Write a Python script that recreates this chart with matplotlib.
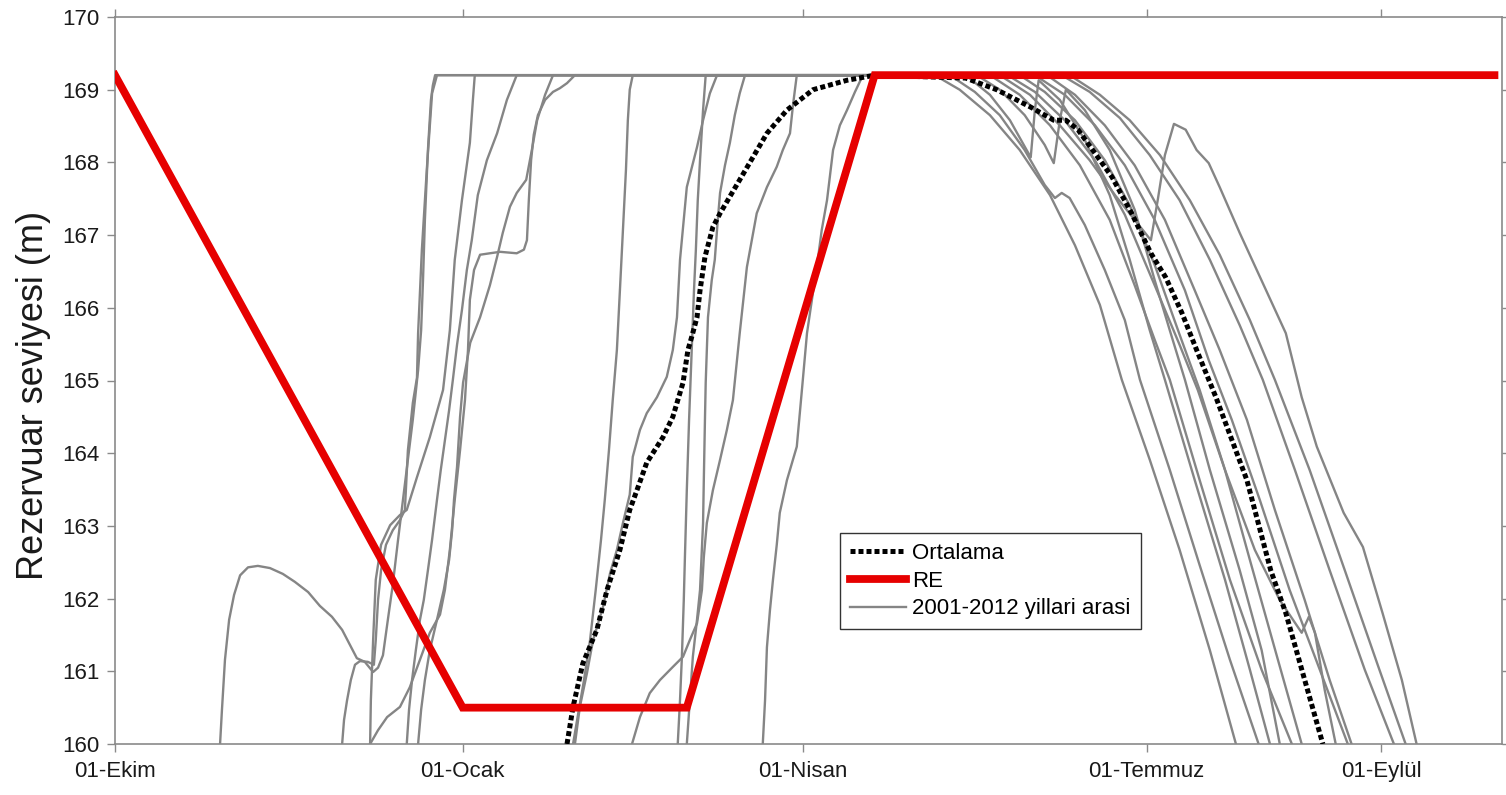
import matplotlib
matplotlib.use("Agg")
import matplotlib.pyplot as plt

plt.rcParams['font.family'] = ['Liberation Sans', 'DejaVu Sans']

# x in days from 01-Ekim, y in metres
tick_days = [0, 92, 182, 273, 335]
tick_labels = ['01-Ekim', '01-Ocak', '01-Nisan', '01-Temmuz', '01-Eylül']

re_day = [0, 92, 151.3, 201, 365]
re_lvl = [169.2, 160.5, 160.5, 169.2, 169.2]

mean_day = [119.6, 121.2, 123.8, 127.5, 130.2, 133.6, 136.2, 138.1, 140.7, 145.0, 147.6,
            150.3, 151.6, 152.6, 154.0, 154.8, 156.1, 158.2, 160.1, 165.3, 172.5, 177.8,
            184.7, 193.7, 201.1,
            225.1, 233.3, 242.3, 248.4, 251.6, 254.8, 258.7, 263.8, 269.0, 274.1, 278.0,
            282.3, 286.2, 291.3, 299.5, 305.8, 309.8, 314.8, 319.6]
mean_lvl = [160.0, 160.51, 161.11, 161.57, 162.12, 162.67, 163.22, 163.49, 163.87, 164.22, 164.5,
            164.97, 165.42, 165.6, 165.87, 166.24, 166.7, 167.11, 167.3, 167.76, 168.4, 168.72,
            169.0, 169.13, 169.2,
            169.16, 169.0, 168.76, 168.58, 168.58, 168.45, 168.17, 167.8, 167.3, 166.75, 166.42,
            165.93, 165.42, 164.77, 163.63, 162.39, 161.8, 160.88, 160.0]

yr01_day = [27.8, 28.3, 29.1, 30.2, 31.5, 33.1, 35.2, 37.8, 41.0, 44.4, 47.6, 51.1, 54.2, 57.4,
            60.1, 62.2, 64.0, 66.1, 68.3, 69.6, 70.9, 72.2, 73.5, 74.9, 76.2, 77.5, 78.8, 80.2,
            81.0, 81.5, 82.0, 82.8, 83.6, 84.1, 84.7,
            216.9, 223.5, 231.5, 239.4, 247.4, 254.0, 260.6, 266.4, 273.8, 281.7, 289.7, 296.6]
yr01_lvl = [160.0, 160.47, 161.16, 161.71, 162.05, 162.32, 162.43, 162.45, 162.42, 162.34, 162.23,
            162.09, 161.9, 161.75, 161.57, 161.36, 161.18, 161.13, 160.99, 161.05, 161.22, 161.71,
            162.19, 162.81, 163.36, 163.91, 164.46, 165.14, 165.69, 166.38, 167.21, 168.17, 168.86,
            169.06, 169.2,
            169.2, 169.0, 168.65, 168.17, 167.55, 166.86, 166.04, 165.01, 163.91, 162.67, 161.29, 160.0]

yr02_day = [60.1, 60.6, 61.4, 62.4, 63.5, 64.8, 66.9, 68.5, 69.0, 69.6, 70.4, 71.7, 73.5, 75.4,
            76.7, 77.5, 78.8, 79.9, 80.2, 81.2, 82.5, 83.9, 85.2,
            220.9, 227.5, 234.1, 240.7, 246.0, 248.7, 250.5, 252.6, 256.6, 261.9, 267.2, 271.2,
            279.1, 287.0, 295.0, 302.6]
yr02_lvl = [160.0, 160.33, 160.6, 160.88, 161.09, 161.14, 161.13, 161.09, 161.43, 161.98, 162.39,
            162.74, 162.94, 163.08, 163.22, 164.04, 164.69, 165.04, 165.65, 166.8, 167.9, 168.95, 169.2,
            169.2, 168.97, 168.65, 168.17, 167.69, 167.51, 167.58, 167.51, 167.14, 166.52, 165.83,
            165.01, 163.77, 162.46, 161.16, 160.0]

yr03_day = [67.5, 67.7, 68.3, 69.0, 70.4, 72.8, 75.4, 77.2, 79.9, 83.3, 86.8, 88.6, 89.9, 91.8,
            93.9, 94.7, 95.2,
            225.1, 231.5, 236.8, 242.3, 243.4, 244.4, 250.0, 256.6, 263.2, 268.5, 273.8, 277.8,
            285.7, 293.7, 300.3, 305.6]
yr03_lvl = [160.0, 160.6, 161.43, 162.26, 162.74, 163.01, 163.15, 163.22, 163.67, 164.22, 164.87,
            165.69, 166.66, 167.48, 168.27, 168.86, 169.2,
            169.2, 168.93, 168.58, 168.07, 168.72, 169.13, 168.86, 168.31, 167.55, 166.66, 165.69,
            165.01, 163.63, 162.26, 161.02, 160.0]

yr04_day = [67.5, 69.6, 72.0, 75.4, 78.0, 80.7, 83.3, 86.0, 87.3, 88.6, 89.9, 91.3, 92.6, 93.4,
            93.9, 95.0, 96.6, 99.2, 101.9, 106.3, 108.2, 109.0, 109.5, 110.1, 110.8, 111.9, 113.8,
            115.9, 117.7, 119.6, 121.7,
            228.0, 234.1, 240.7, 246.0, 248.4, 250.0, 251.6, 256.6, 263.2, 269.8, 275.1, 279.1,
            283.1, 289.7, 297.6, 303.4, 308.2]
yr04_lvl = [160.0, 160.19, 160.37, 160.51, 160.78, 161.16, 161.53, 161.78, 162.12, 162.67, 163.36,
            164.04, 164.73, 165.42, 166.11, 166.52, 166.73, 166.75, 166.77, 166.75, 166.8, 166.93,
            167.48, 168.03, 168.38, 168.65, 168.86, 168.97, 169.02, 169.09, 169.2,
            169.2, 169.0, 168.65, 168.24, 167.99, 168.58, 169.0, 168.72, 168.17, 167.35, 166.38,
            165.69, 165.01, 163.77, 162.39, 161.29, 160.0]

yr05_day = [77.2, 77.8, 78.6, 79.6, 80.7, 81.7, 82.8, 83.9, 85.2, 86.2, 87.3, 88.4, 89.4, 90.5,
            91.8, 93.1, 94.4, 96.0, 98.4, 101.1, 103.7, 106.3,
            231.5, 239.4, 247.4, 255.3, 263.2, 269.8, 275.1, 279.1, 287.0, 295.0, 303.4, 311.4]
yr05_lvl = [160.0, 160.47, 160.88, 161.29, 161.71, 161.98, 162.39, 162.81, 163.36, 163.77, 164.18,
            164.59, 165.01, 165.49, 165.97, 166.52, 166.93, 167.55, 168.03, 168.4, 168.86, 169.2,
            169.2, 168.93, 168.51, 167.96, 167.21, 166.31, 165.56, 165.01, 163.63, 162.26, 161.02, 160.0]

yr06_day = [80.2, 81.0, 82.0, 83.3, 85.2, 87.0, 88.4, 89.2, 89.7, 90.5, 91.3, 92.1, 94.0, 96.6,
            99.2, 101.1, 102.6, 104.5, 106.3, 108.8, 110.3, 111.7, 113.8, 115.9,
            236.2, 243.4, 251.3, 259.3, 267.2, 275.1, 281.7, 286.5, 293.7, 301.6, 308.2, 314.0,
            315.9, 317.5, 320.1, 323.0]
yr06_lvl = [160.0, 160.47, 160.88, 161.29, 161.71, 162.12, 162.53, 162.94, 163.36, 163.81, 164.5,
            164.97, 165.52, 165.87, 166.31, 166.7, 167.03, 167.39, 167.58, 167.76, 168.17, 168.58,
            168.93, 169.2,
            169.2, 168.97, 168.58, 168.03, 167.28, 166.31, 165.49, 164.87, 163.77, 162.67, 161.98,
            161.53, 161.75, 161.53, 160.74, 160.0]

yr07_day = [121.2, 122.5, 124.1, 125.7, 127.2, 128.6, 129.6, 130.7, 131.7, 132.8, 133.6, 134.4,
            135.2, 135.7, 136.2, 137.0,
            239.4, 246.0, 254.0, 261.9, 268.5, 275.1, 281.7, 287.0, 293.7, 300.3, 307.7, 314.0]
yr07_lvl = [160.0, 160.4, 160.88, 161.43, 162.12, 162.81, 163.36, 164.04, 164.73, 165.42, 166.24,
            167.07, 167.9, 168.58, 169.0, 169.2,
            169.2, 168.97, 168.58, 168.03, 167.41, 166.59, 165.63, 164.87, 163.77, 162.53, 161.16, 160.0]

yr08_day = [121.7, 123.0, 124.9, 126.5, 129.1, 131.0, 132.8, 134.4, 136.2, 137.0, 138.9, 140.7,
            143.4, 146.0, 147.6, 148.7, 149.5, 151.3, 154.0, 155.6, 157.4, 159.3,
            243.4, 251.3, 259.3, 267.2, 275.1, 283.1, 289.4, 295.5, 302.9, 310.8, 318.8, 326.2]
yr08_lvl = [160.0, 160.51, 160.98, 161.43, 161.88, 162.35, 162.67, 163.04, 163.43, 163.95, 164.32,
            164.55, 164.77, 165.05, 165.42, 165.87, 166.66, 167.66, 168.21, 168.58, 168.95, 169.2,
            169.2, 168.93, 168.51, 167.96, 167.21, 166.24, 165.28, 164.46, 163.36, 162.12, 161.02, 160.0]

yr09_day = [136.8, 138.9, 141.5, 144.2, 147.6, 150.3, 152.1, 154.0, 155.3, 155.8, 156.6, 158.2,
            160.1, 161.9, 163.5, 165.3, 167.2, 169.8, 172.5, 175.1, 176.7, 178.6, 179.4, 180.4,
            246.6, 254.0, 261.9, 269.8, 277.8, 285.7, 292.3, 299.5, 306.9, 314.8, 321.4, 327.2]
yr09_lvl = [160.0, 160.37, 160.7, 160.88, 161.06, 161.2, 161.43, 161.66, 162.12, 162.57, 163.04,
            163.49, 163.91, 164.32, 164.73, 165.65, 166.56, 167.3, 167.66, 167.94, 168.17, 168.4,
            168.79, 169.2,
            169.2, 168.93, 168.51, 167.96, 167.21, 166.24, 165.42, 164.46, 163.22, 161.98, 160.88, 160.0]

yr10_day = [148.9, 149.5, 150.0, 150.5, 150.8, 151.3, 151.9, 152.6, 153.2, 153.7, 154.2, 154.8,
            155.6, 156.3,
            250.5, 257.9, 265.9, 273.8, 281.7, 289.7, 297.6, 303.7, 312.2, 321.4, 330.7, 338.4]
yr10_lvl = [160.0, 160.6, 161.2, 161.98, 162.57, 163.49, 164.46, 165.42, 166.24, 166.8, 167.48,
            168.03, 168.72, 169.2,
            169.2, 168.97, 168.61, 168.1, 167.48, 166.66, 165.76, 165.01, 163.77, 162.39, 161.02, 160.0]

yr11_day = [151.3, 152.1, 152.9, 154.0, 154.8, 155.6, 155.8, 156.1, 156.3, 156.9, 157.9, 158.7,
            159.5, 160.1, 161.4, 162.7, 164.0, 165.3, 166.7,
            252.6, 260.6, 268.5, 276.5, 284.4, 292.3, 300.3, 306.9, 316.1, 325.4, 334.1, 341.5]
yr11_lvl = [160.0, 160.6, 161.2, 161.71, 162.12, 163.04, 163.63, 164.46, 164.97, 165.87, 166.38,
            166.66, 167.21, 167.58, 167.96, 168.27, 168.65, 168.95, 169.2,
            169.2, 168.93, 168.58, 168.1, 167.48, 166.73, 165.83, 165.01, 163.77, 162.39, 161.09, 160.0]

yr12_day = [171.4, 172.0, 172.5, 173.3, 174.1, 175.1, 175.9, 177.8, 180.4, 182.0, 183.1, 184.4,
            185.7, 187.0, 188.4, 190.0, 191.8, 193.7, 195.8, 197.9,
            234.1, 242.1, 250.0, 257.9, 264.6, 269.8, 274.1, 275.9, 277.8, 280.2, 283.3, 286.2,
            289.4, 292.3, 297.6, 303.7, 309.8, 314.0, 318.0, 325.1, 330.2, 335.4, 340.5, 344.4]
yr12_lvl = [160.0, 160.6, 161.33, 161.84, 162.26, 162.74, 163.18, 163.63, 164.09, 165.01, 165.65,
            166.11, 166.56, 167.07, 167.48, 168.17, 168.51, 168.72, 168.97, 169.2,
            169.2, 168.93, 168.51, 168.03, 167.55, 167.21, 166.93, 167.48, 168.1, 168.53, 168.45,
            168.17, 167.99, 167.66, 167.03, 166.34, 165.65, 164.77, 164.09, 163.18, 162.71, 161.8,
            160.88, 160.0]

years = [(yr01_day, yr01_lvl), (yr02_day, yr02_lvl), (yr03_day, yr03_lvl), (yr04_day, yr04_lvl),
         (yr05_day, yr05_lvl), (yr06_day, yr06_lvl), (yr07_day, yr07_lvl), (yr08_day, yr08_lvl),
         (yr09_day, yr09_lvl), (yr10_day, yr10_lvl), (yr11_day, yr11_lvl), (yr12_day, yr12_lvl)]

fig = plt.figure(figsize=(15.06, 7.95), dpi=100)
ax = fig.add_axes([115 / 1506, 1 - 744 / 795, (1502 - 115) / 1506, (744 - 17) / 795])

gray = '#858585'
for i, (d, h) in enumerate(years):
    ax.plot(d, h, color=gray, lw=1.7,
            label='2001-2012 yillari arasi' if i == 0 else None, zorder=2)

ax.plot(mean_day, mean_lvl, color='black', lw=3.6, linestyle=(0, (1.0, 0.6)),
        dash_capstyle='butt', zorder=3, label='Ortalama')
ax.plot(re_day, re_lvl, color='#e60000', lw=5.6, zorder=4, label='RE',
        solid_joinstyle='miter')

ax.set_xlim(0, 367)
ax.set_ylim(160, 170)
ax.set_xticks(tick_days)
ax.set_xticklabels(tick_labels)
ax.set_yticks(range(160, 171))

for s in ax.spines.values():
    s.set_color('#8a8a8a')
    s.set_linewidth(1.2)
ax.tick_params(axis='both', which='both', direction='out', length=6, width=1.0,
               color='#8a8a8a', labelsize=16, labelcolor='#1a1a1a',
               top=True, right=True, labeltop=False, labelright=False)
ax.tick_params(axis='x', pad=6)
ax.tick_params(axis='y', pad=5)

ax.set_ylabel('Rezervuar seviyesi (m)', fontsize=26, color='#1a1a1a')
ax.yaxis.set_label_coords(-0.046, 0.48)

handles, labels = ax.get_legend_handles_labels()
order = [labels.index('Ortalama'), labels.index('RE'), labels.index('2001-2012 yillari arasi')]
leg = ax.legend([handles[i] for i in order], [labels[i] for i in order],
                loc='upper left', bbox_to_anchor=((840 - 115) / 1387, (744 - 533) / 727),
                borderaxespad=0, fontsize=16, frameon=True, fancybox=False,
                handlelength=2.5, handletextpad=0.3, labelspacing=0.3, borderpad=0.45)
leg.get_frame().set_edgecolor('black')
leg.get_frame().set_linewidth(1.0)

fig.savefig('out.png', dpi=100)
